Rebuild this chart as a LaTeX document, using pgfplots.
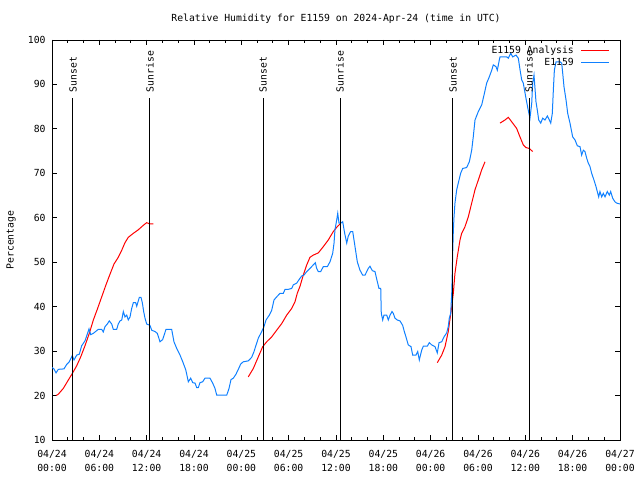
\documentclass[border=0pt]{standalone}
\usepackage{pgfplots}
\pgfplotsset{compat=1.18}
\usepackage{fontspec}
\setmainfont{DejaVu Sans Mono}
\definecolor{obsblue}{rgb}{0.06,0.50,1.0}
\begin{document}
\fontsize{9.8}{14}\selectfont
\begin{tikzpicture}
\path[use as bounding box] (0,0) rectangle (640bp,480bp);
\begin{axis}[
  at={(52bp,40bp)}, anchor=south west,
  scale only axis, width=568bp, height=400bp,
  xmin=0, xmax=72, ymin=10, ymax=100,
  font=\fontsize{9.8}{14}\selectfont,
  /pgf/number format/assume math mode=true,
  axis line style={black, line width=0.8bp},
  xtick={0,6,...,72},
  minor xtick={0,2,...,72},
  xticklabels={{04/24\\00:00},{04/24\\06:00},{04/24\\12:00},{04/24\\18:00},{04/25\\00:00},{04/25\\06:00},{04/25\\12:00},{04/25\\18:00},{04/26\\00:00},{04/26\\06:00},{04/26\\12:00},{04/26\\18:00},{04/27\\00:00}},
  xticklabel style={align=center, yshift=-7bp},
  ytick={10,20,...,100},
  yticklabel style={xshift=-3bp},
  major tick length=5bp, minor tick length=3bp,
  tick style={black, line width=0.8bp},
  unbounded coords=jump,
  clip=true,
  legend plot pos=right,
  legend cell align=right,
  legend style={at={(rel axis cs:1,1)}, anchor=north east, xshift=-10bp, yshift=-6bp,
    draw=none, fill=none, inner sep=0pt, column sep=7bp, row sep=3bp,
    nodes={inner sep=0pt, text height=7bp, text depth=2bp}},
  legend image code/.code={\draw[#1] (0bp,0bp) -- (28bp,0bp);},
]
\addplot[red, line width=1bp] coordinates {
(0.51,20.0) (0.80,20.3) (1.43,21.6) (2.07,23.5) (2.62,25.1) (3.13,26.7) (3.64,28.7) (4.18,31.2) (4.73,34.0) (5.24,37.0) (5.74,39.4) (6.30,42.2) (6.84,44.9) (7.35,47.3) (7.86,49.6) (8.40,51.1) (8.84,52.7) (9.25,54.4) (9.67,55.6) (10.31,56.5) (10.94,57.3) (11.57,58.3) (12.00,58.9) (12.42,58.6) (12.84,58.6)
(18,nan)
(24.88,24.2) (25.52,26.1) (26.15,28.7) (26.71,31.0) (27.22,32.1) (27.85,33.2) (28.48,34.7) (29.12,36.2) (29.75,38.1) (30.38,39.6) (30.80,41.1) (31.09,43.0) (31.44,44.6) (31.85,47.1) (32.29,49.4) (32.70,51.1) (33.12,51.6) (33.76,52.1) (34.39,53.5) (35.02,55.0) (35.66,56.9) (36.16,58.0) (36.51,58.6)
(42,nan)
(48.84,27.4) (49.40,29.1) (49.82,31.0) (50.23,34.4) (50.67,40.0) (50.87,43.0) (51.08,47.5) (51.37,51.2) (51.72,55.0) (51.93,56.5) (52.35,58.0) (52.77,60.2) (53.20,63.3) (53.62,66.3) (54.04,68.5) (54.47,70.8) (54.89,72.6)
(55.5,nan)
(56.79,81.3) (57.42,82.0) (57.84,82.6) (58.27,81.6) (58.90,80.1) (59.32,78.2) (59.74,76.4) (60.08,75.8) (60.50,75.6) (60.93,74.9)
};
\addlegendentry{E1159 Analysis}
\addplot[obsblue, line width=1bp] coordinates {
(0.00,26.3) (0.25,26.0) (0.51,25.1) (0.80,25.9) (1.52,26.0) (1.86,27.0) (2.19,27.6) (2.57,29.0) (2.79,28.0) (3.13,29.1) (3.46,29.3) (3.76,31.2) (4.18,32.3) (4.47,33.8) (4.69,35.0) (4.91,33.7) (5.24,34.0) (5.87,34.9) (6.30,34.9) (6.50,34.3) (6.72,35.5) (7.01,36.1) (7.26,36.8) (7.57,36.1) (7.77,34.9) (8.20,34.9) (8.40,36.1) (8.62,36.8) (8.84,37.0) (9.04,38.9) (9.25,37.7) (9.47,38.1) (9.67,37.0) (9.89,37.7) (10.10,39.6) (10.31,40.9) (10.61,40.9) (10.74,40.1) (10.94,41.3) (11.07,42.1) (11.28,42.1) (11.45,40.9) (11.62,38.9) (11.79,37.4) (12.00,36.1) (12.42,35.8) (12.64,34.7) (13.06,34.4) (13.35,34.0) (13.69,32.1) (14.03,32.6) (14.45,34.9) (15.17,34.9) (15.46,32.1) (15.81,30.6) (16.23,29.1) (16.64,27.3) (16.95,25.8) (17.15,24.2) (17.28,23.1) (17.58,23.9) (17.84,22.9) (18.13,22.8) (18.34,21.8) (18.55,21.8) (18.76,22.9) (19.10,23.1) (19.39,23.9) (20.03,23.9) (20.37,22.8) (20.66,21.6) (20.88,20.1) (22.15,20.1) (22.44,21.6) (22.69,23.6) (22.98,23.9) (23.32,24.8) (23.62,25.9) (23.92,27.1) (24.25,27.6) (24.88,27.8) (25.31,28.6) (25.61,29.9) (25.80,31.0) (26.15,32.9) (26.58,34.4) (26.87,35.5) (27.13,37.0) (27.55,38.1) (27.85,39.2) (28.14,41.5) (28.48,42.2) (28.90,43.0) (29.32,43.0) (29.54,43.9) (29.95,43.9) (30.38,44.1) (30.59,44.9) (31.02,45.3) (31.44,46.4) (31.65,46.9) (31.94,47.1) (32.29,47.9) (32.70,48.6) (33.12,49.4) (33.38,49.9) (33.55,48.6) (33.76,47.9) (34.06,47.9) (34.39,49.0) (34.90,49.0) (35.24,50.1) (35.58,52.0) (35.75,54.3) (35.87,57.3) (36.09,59.5) (36.22,61.0) (36.38,58.8) (36.60,58.8) (36.85,59.1) (37.10,56.5) (37.36,54.3) (37.56,55.9) (37.86,56.9) (38.12,56.9) (38.41,53.5) (38.70,50.1) (39.04,48.2) (39.38,47.1) (39.68,47.1) (40.09,48.6) (40.31,49.1) (40.60,48.1) (40.94,47.9) (41.24,45.6) (41.45,44.1) (41.67,44.1) (41.74,38.5) (41.92,37.0) (42.08,38.1) (42.43,38.1) (42.63,37.0) (42.85,38.1) (43.10,38.9) (43.26,38.5) (43.48,37.4) (43.77,37.0) (44.11,36.8) (44.45,35.8) (44.66,34.4) (44.87,33.2) (45.16,31.4) (45.51,31.0) (45.72,29.1) (46.14,29.1) (46.36,29.9) (46.56,28.0) (46.86,30.2) (47.07,31.1) (47.57,31.1) (47.83,31.9) (48.13,31.4) (48.55,31.0) (48.84,29.6) (49.06,31.9) (49.40,32.1) (49.69,33.2) (50.03,34.1) (50.23,35.5) (50.36,37.4) (50.54,38.5) (50.67,43.0) (50.74,47.5) (50.79,52.0) (50.87,56.9) (50.96,60.2) (51.08,63.3) (51.30,66.3) (51.50,67.8) (51.80,70.0) (52.06,71.1) (52.56,71.3) (52.90,72.6) (53.20,75.2) (53.40,78.2) (53.62,82.0) (54.04,83.9) (54.47,85.4) (54.76,87.6) (55.10,90.3) (55.43,91.7) (55.74,93.2) (55.94,94.4) (56.28,94.0) (56.45,93.2) (56.70,95.5) (56.79,96.2) (57.64,96.2) (57.84,95.9) (58.15,97.0) (58.40,96.2) (58.82,96.6) (59.11,95.9) (59.32,93.4) (59.54,91.0) (59.74,90.3) (60.08,86.9) (60.37,84.2) (60.59,82.4) (60.81,85.8) (60.93,90.3) (61.10,92.1) (61.35,86.1) (61.52,84.2) (61.70,82.0) (61.95,81.3) (62.20,82.4) (62.49,82.0) (62.79,82.9) (63.04,82.0) (63.22,81.3) (63.42,83.5) (63.55,88.7) (63.68,93.2) (63.89,95.1) (64.40,95.1) (64.61,94.8) (64.74,92.5) (64.90,89.5) (65.16,86.5) (65.37,83.5) (65.66,81.3) (66.00,78.2) (66.30,77.5) (66.59,76.2) (66.93,76.0) (67.14,74.1) (67.35,75.2) (67.56,74.9) (67.78,73.4) (67.98,72.3) (68.20,71.5) (68.41,70.0) (68.70,68.5) (68.96,67.0) (69.12,65.9) (69.30,64.7) (69.46,65.9) (69.68,64.7) (69.88,65.5) (70.10,64.7) (70.39,65.9) (70.64,65.1) (70.82,65.9) (71.07,64.4) (71.36,63.6) (71.58,63.3) (72.00,63.1)
};
\addlegendentry{E1159}
% sunset / sunrise markers
\addplot[black, line width=1bp, forget plot] coordinates {(2.66,10) (2.66,87)};
\addplot[black, line width=1bp, forget plot] coordinates {(12.42,10) (12.42,87)};
\addplot[black, line width=1bp, forget plot] coordinates {(26.75,10) (26.75,87)};
\addplot[black, line width=1bp, forget plot] coordinates {(36.51,10) (36.51,87)};
\addplot[black, line width=1bp, forget plot] coordinates {(50.83,10) (50.83,87)};
\addplot[black, line width=1bp, forget plot] coordinates {(60.47,10) (60.47,87)};
\node[rotate=90, anchor=west, inner sep=0pt] at (axis cs:2.66,88.2) {Sunset};
\node[rotate=90, anchor=west, inner sep=0pt] at (axis cs:12.42,88.2) {Sunrise};
\node[rotate=90, anchor=west, inner sep=0pt] at (axis cs:26.75,88.2) {Sunset};
\node[rotate=90, anchor=west, inner sep=0pt] at (axis cs:36.51,88.2) {Sunrise};
\node[rotate=90, anchor=west, inner sep=0pt] at (axis cs:50.83,88.2) {Sunset};
\node[rotate=90, anchor=west, inner sep=0pt] at (axis cs:60.47,88.2) {Sunrise};
\end{axis}
\node at (336bp,461bp) {Relative Humidity for E1159 on 2024-Apr-24 (time in UTC)};
\node[rotate=90] at (11bp,240bp) {Percentage};
\end{tikzpicture}
\end{document}
